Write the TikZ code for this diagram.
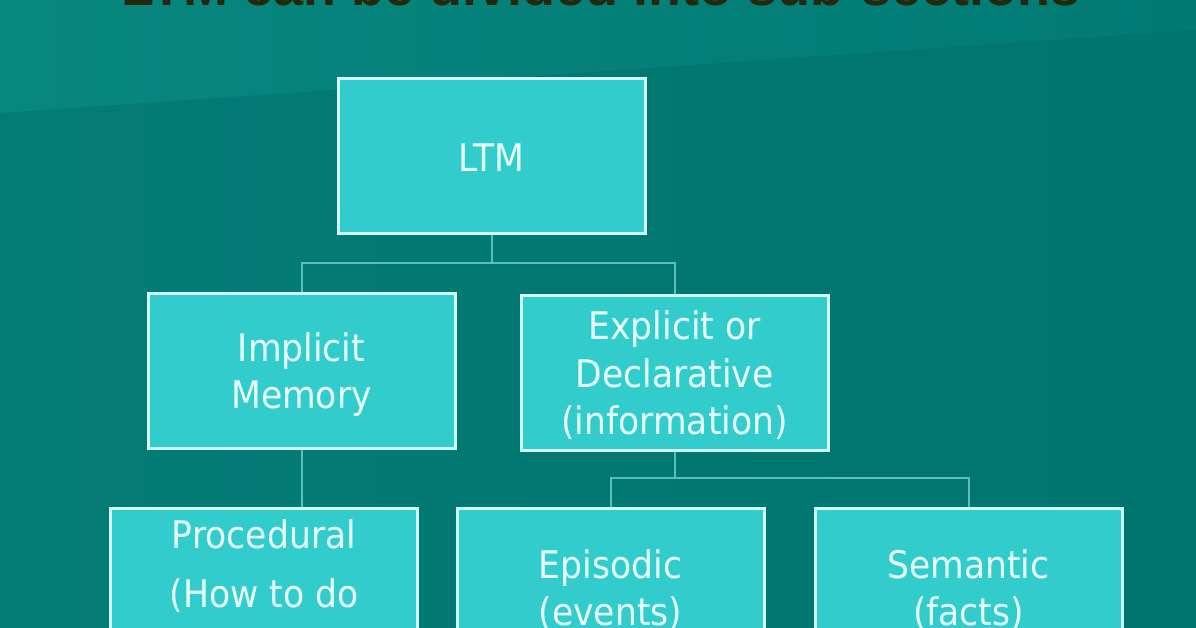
\documentclass[tikz,border=0pt]{standalone}
\usepackage{fontspec}
\setmainfont{DejaVu Sans}
\newfontfamily\boxfont[FakeStretch=0.91]{DejaVu Sans}
\newfontfamily\titlefont{Liberation Sans}
\definecolor{bgmain}{HTML}{00746F}
\definecolor{bgleft}{HTML}{047C76}
\definecolor{bgband}{HTML}{08877F}
\definecolor{bgbandr}{HTML}{017A74}
\definecolor{boxfill}{HTML}{33CCCC}
\definecolor{boxline}{HTML}{D2FFFF}
\definecolor{boxtext}{HTML}{E8FFFF}
\definecolor{connc}{HTML}{5CC0B8}
\definecolor{titlec}{HTML}{232A0C}
\newcommand{\topstrut}[1]{\rule{0pt}{#1pt}}
\tikzset{
  membox/.style={draw=boxline, line width=3pt, fill=boxfill, text=boxtext,
    minimum width=307pt, align=center, inner sep=0pt,
    font=\boxfont\fontsize{38}{47.5}\selectfont},
  conn/.style={draw=connc, line width=2pt}
}
\begin{document}
\begin{tikzpicture}[x=1pt,y=-1pt]
\useasboundingbox (0,0) rectangle (1196,628);
\begin{scope}
\clip (0,0) rectangle (1196,628);
\shade[left color=bgleft, right color=bgmain] (0,0) rectangle (1196,628);
\shade[left color=bgband, right color=bgbandr] (0,0) -- (1196,0) -- (1196,30) -- (0,113) -- cycle;
\node[anchor=base, text=titlec, font=\titlefont\bfseries\fontsize{54}{60}\selectfont, inner sep=0pt] (title) at (601,6) {LTM can be divided into sub-sections};

\node[membox, minimum height=155pt] (ltm) at (491.5,156.5) {\topstrut{30}LTM};
\node[membox, minimum height=155pt] (imp) at (301.5,370.5) {\topstrut{37}Implicit\\Memory};
\node[membox, minimum height=155pt] (exp) at (674.5,372.5) {\topstrut{35}Explicit or\\Declarative\\(information)};
\node[membox, minimum height=174pt] (proc) at (264,595) {\topstrut{33}Procedural\\[12pt](How to do\\[12pt]things)};
\node[membox, minimum height=164pt] (epi) at (610.5,590) {Episodic\\(events)};
\node[membox, minimum height=164pt] (sem) at (968.5,590) {Semantic\\(facts)};

\coordinate (j1) at (ltm.south |- 0,263);
\coordinate (j2) at (exp.south |- 0,478);
\draw[conn] (ltm.south) -- (j1);
\draw[conn] (imp.north) |- (j1) -| (exp.north);
\draw[conn] (imp.south) -- (imp.south |- proc.north);
\draw[conn] (exp.south) -- (j2);
\draw[conn] (epi.north) |- (j2) -| (sem.north);
\end{scope}
\end{tikzpicture}
\end{document}
